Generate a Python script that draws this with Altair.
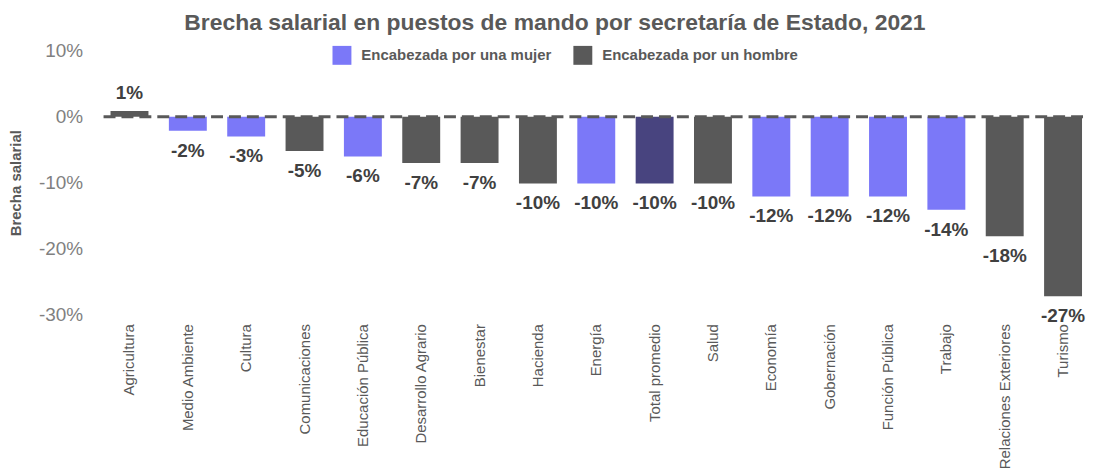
import altair as alt
import pandas as pd

categories = ["Agricultura", "Medio Ambiente", "Cultura", "Comunicaciones",
              "Educación Pública", "Desarrollo Agrario", "Bienestar", "Hacienda",
              "Energía", "Total promedio", "Salud", "Economía", "Gobernación",
              "Función Pública", "Trabajo", "Relaciones Exteriores", "Turismo"]
gaps = [0.009, -0.021, -0.030, -0.052, -0.060, -0.070, -0.070, -0.101,
        -0.101, -0.101, -0.101, -0.121, -0.121, -0.121, -0.141, -0.181, -0.272]
MUJER = "Encabezada por una mujer"
HOMBRE = "Encabezada por un hombre"
PROM = "Total promedio"
heads = [HOMBRE, MUJER, MUJER, HOMBRE, MUJER, HOMBRE, HOMBRE, HOMBRE,
         MUJER, PROM, HOMBRE, MUJER, MUJER, MUJER, MUJER, HOMBRE, HOMBRE]
y_ticks = [-0.3, -0.2, -0.1, 0.0, 0.1]

df = pd.DataFrame({"cat": categories, "gap": gaps, "head": heads})

FONT = "Liberation Sans"
MINUS_FIX = "replace(datum.label, '\u2212', '-')"

x_enc = alt.X("cat:N", sort=categories, title=None,
              scale=alt.Scale(paddingInner=0.35, paddingOuter=0, range=[12, 988]),
              axis=alt.Axis(labelAngle=-90, ticks=False, domain=False, labelPadding=9,
                            labelFontSize=15, labelColor="#595959", labelLimit=0,
                            labelFont=FONT))
y_enc = alt.Y("gap:Q", title="Brecha salarial",
              scale=alt.Scale(domain=[-0.3, 0.1], nice=False, zero=False),
              axis=alt.Axis(values=y_ticks, format=".0%", grid=False, domain=False,
                            ticks=False, labelFontSize=19, labelColor="#808080",
                            labelPadding=16, titlePadding=15, titleFontSize=15,
                            titleFontWeight="bold", titleColor="#595959",
                            labelFont=FONT, titleFont=FONT, labelExpr=MINUS_FIX))

base = alt.Chart(df).transform_calculate(
    lbl="replace(format(datum.gap, '.0%'), '\u2212', '-')"
)

bars = base.mark_bar().encode(
    x=x_enc,
    y=y_enc,
    y2=alt.datum(0),
    color=alt.Color("head:N",
                    scale=alt.Scale(domain=[MUJER, HOMBRE, PROM],
                                    range=["#7B78F8", "#595959", "#48447F"]),
                    legend=alt.Legend(title=None, orient="none", direction="horizontal",
                                      legendX=235, legendY=-5, values=[MUJER, HOMBRE],
                                      symbolType="square", symbolSize=361,
                                      symbolStrokeWidth=0, symbolOpacity=1,
                                      labelFontSize=15, labelFontWeight="bold",
                                      labelColor="#595959", labelOffset=10,
                                      columnPadding=22, padding=0, labelFont=FONT,
                                      labelLimit=0)),
)

pos_text = base.transform_filter("datum.gap >= 0").mark_text(
    baseline="bottom", dy=-8, fontSize=19, fontWeight="bold", color="#404040", font=FONT
).encode(x=alt.X("cat:N", sort=categories), y="gap:Q", text="lbl:N")

neg_text = base.transform_filter("datum.gap < 0").mark_text(
    baseline="top", dy=11, fontSize=19, fontWeight="bold", color="#404040", font=FONT
).encode(x=alt.X("cat:N", sort=categories), y="gap:Q", text="lbl:N")

zero_rule = alt.Chart(pd.DataFrame({"z": [0.0]})).mark_rule(
    color="#595959", strokeWidth=3, strokeDash=[12, 6]
).encode(y="z:Q")

chart = alt.layer(bars, zero_rule, pos_text, neg_text).properties(
    width=989, height=265,
    padding={"left": 0, "top": 3, "right": 0, "bottom": 0},
    title=alt.TitleParams(
        "Brecha salarial en puestos de mando por secretaría de Estado, 2021",
        fontSize=23, fontWeight="bold", color="#595959", font=FONT,
        anchor="middle", offset=7, dx=-36),
).configure(background="white").configure_view(stroke=None)

chart.save("out.html", embed_options={"renderer": "svg", "actions": False})
